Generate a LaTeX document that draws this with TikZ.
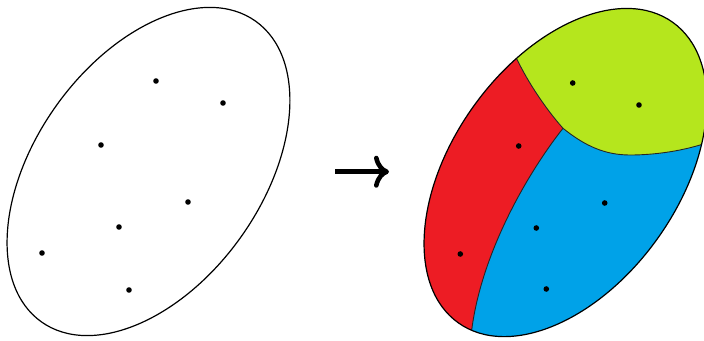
\documentclass[tikz,border=0pt]{standalone}
\usetikzlibrary{arrows.meta}
\definecolor{pred}{HTML}{ED1C24}
\definecolor{pgreen}{HTML}{B5E61D}
\definecolor{pblue}{HTML}{00A2E8}
\tikzset{
  outline/.style={draw=black,line width=1.2pt},
  border/.style={draw=black!85,line width=0.9pt},
  dot/.style={fill=black},
}
\begin{document}
\begin{tikzpicture}[x=1pt,y=-1pt]
\useasboundingbox (0,0) rectangle (704,340);
% ---------- left ellipse ----------
\coordinate (cl) at (148.5,171.5);
\draw[outline,rotate around={54.5:(cl)}] (cl) ellipse [x radius=184.6, y radius=113.3];
\foreach \n/\x/\y in {a/156/81,b/223/103,c/101/145,d/188/202,e/119/227,f/42/253,g/129/290}{
  \coordinate (L\n) at (\x,\y);
  \fill[dot] (L\n) circle[radius=2.8];
}
% ---------- arrow ----------
\coordinate (arrowstart) at (335,171.7);
\coordinate (arrowend) at (389,171.7);
\draw[line width=4.6pt,-{Computer Modern Rightarrow[length=15pt,width=32pt,line width=4.6pt]}] (arrowstart) -- (arrowend);
% ---------- right ellipse ----------
\coordinate (cr) at (565.5,172.5);
\coordinate (tg) at (509,45);   % red/green border, outside end
\coordinate (rg) at (517.3,60);
\coordinate (jn) at (563,128.3); % junction
\coordinate (gb) at (630,155);
\coordinate (ge) at (700,145);
\coordinate (gx) at (716,140);
\coordinate (rb) at (471.7,330);
\coordinate (rx) at (468,350);
\begin{scope}
  \clip[rotate around={54.5:(cr)}] (cr) ellipse [x radius=184.6, y radius=113.3];
  \fill[pblue] (380,0) rectangle (720,360);
  \fill[pred] (400,20) -- (tg) -- (rg)
     .. controls (528,82) and (545,108) .. (jn)
     .. controls (530,170) and (482,250) .. (rb) -- (rx)
     -- (400,360) -- cycle;
  \fill[pgreen] (509,0) -- (tg) -- (rg)
     .. controls (528,82) and (545,108) .. (jn)
     .. controls (585,146) and (605,155) .. (gb)
     .. controls (655,155) and (680,151) .. (ge) -- (gx)
     -- (716,0) -- cycle;
  \draw[border] (tg) -- (rg) .. controls (528,82) and (545,108) .. (jn);
  \draw[border] (jn) .. controls (530,170) and (482,250) .. (rb) -- (rx);
  \draw[border] (jn) .. controls (585,146) and (605,155) .. (gb)
     .. controls (655,155) and (680,151) .. (ge) -- (gx);
\end{scope}
\draw[outline,rotate around={54.5:(cr)}] (cr) ellipse [x radius=184.6, y radius=113.3];
\foreach \n/\x/\y in {a/572.7/83,b/639/105,c/518.7/146,d/604.7/203,e/536.3/228,f/460.3/254,g/546.3/289}{
  \coordinate (R\n) at (\x,\y);
  \fill[dot] (R\n) circle[radius=2.8];
}
\end{tikzpicture}
\end{document}
